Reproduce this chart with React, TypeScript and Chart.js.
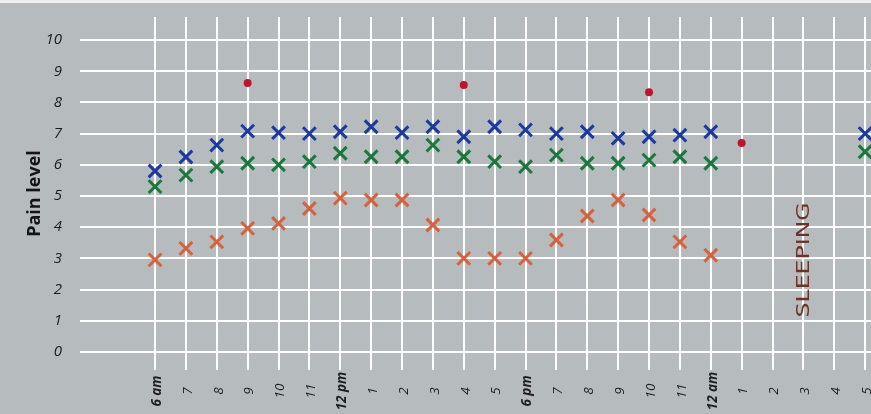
import React, { useEffect, useRef } from 'react';
import { Chart, registerables } from 'chart.js';

Chart.register(...registerables);

// X axis: hours from 6 am (6) to 5 am next day (29)
const tickHours = [6, 7, 8, 9, 10, 11, 12, 13, 14, 15, 16, 17, 18, 19, 20, 21, 22, 23, 24, 25, 26, 27, 28, 29];
const tickLabels = ['6 am', '7', '8', '9', '10', '11', '12 pm', '1', '2', '3', '4', '5', '6 pm', '7', '8', '9', '10', '11', '12 am', '1', '2', '3', '4', '5'];
const yTicks = [0, 1, 2, 3, 4, 5, 6, 7, 8, 9, 10];

// Hourly readings 6 am .. 12 am
const crossHours = [6, 7, 8, 9, 10, 11, 12, 13, 14, 15, 16, 17, 18, 19, 20, 21, 22, 23, 24];
const blueValues = [5.8, 6.25, 6.63, 7.08, 7.03, 7.0, 7.06, 7.22, 7.03, 7.22, 6.9, 7.22, 7.12, 7.0, 7.06, 6.85, 6.9, 6.95, 7.06];
const greenValues = [5.3, 5.67, 5.94, 6.05, 6.0, 6.1, 6.37, 6.26, 6.26, 6.63, 6.26, 6.1, 5.94, 6.31, 6.05, 6.05, 6.15, 6.26, 6.05];
const orangeValues = [2.95, 3.32, 3.53, 3.96, 4.12, 4.6, 4.93, 4.87, 4.87, 4.07, 3.0, 3.0, 3.0, 3.59, 4.36, 4.87, 4.39, 3.53, 3.1];

// Morning reading after sleep (5 am)
const lateHours = [29];
const blueLate = [7.0];
const greenLate = [6.42];

// Red dots
const dotHours = [9, 16, 22, 25];
const dotValues = [8.62, 8.56, 8.33, 6.7];

// Annotation
const sleepLabel = 'SLEEPING';
const sleepHour = 27;
const sleepLevel = 2.95;

const pts = (xs: number[], ys: number[]) => xs.map((x, i) => ({ x, y: ys[i] }));

const BLUE = '#1a3aa2';
const GREEN = '#17793a';
const ORANGE = '#d8603a';
const RED = '#c0142c';

const overlayPlugin = {
  id: 'overlay',
  afterDraw(chart: any) {
    const { ctx, scales } = chart;
    const x = scales.x;
    const y = scales.y;
    // x tick labels, rotated and centred
    tickHours.forEach((h, i) => {
      const lbl = tickLabels[i];
      const bold = /am|pm/.test(lbl);
      const px = x.getPixelForValue(h);
      ctx.save();
      ctx.translate(px + 2, 391);
      ctx.rotate(-Math.PI / 2);
      ctx.font = `italic ${bold ? 'bold ' : ''}13.5px "Open Sans"`;
      ctx.fillStyle = '#1e1e1e';
      ctx.textAlign = 'center';
      ctx.textBaseline = 'middle';
      ctx.fillText(lbl, 0, 0);
      ctx.restore();
    });
    // SLEEPING annotation
    const sx = x.getPixelForValue(sleepHour);
    const sy = y.getPixelForValue(sleepLevel);
    ctx.save();
    ctx.translate(sx + 1, sy);
    ctx.rotate(-Math.PI / 2);
    ctx.font = '17px "DejaVu Sans Condensed", "Liberation Sans Narrow", sans-serif';
    const w = ctx.measureText(sleepLabel).width;
    ctx.scale(115 / w, 1);
    ctx.fillStyle = '#6e3226';
    ctx.textAlign = 'center';
    ctx.textBaseline = 'middle';
    ctx.fillText(sleepLabel, 0, 0);
    ctx.restore();
  },
};

export default function App() {
  const ref = useRef<HTMLCanvasElement>(null);
  useEffect(() => {
    if (!ref.current) return;
    const crossDs = (data: any, color: string) => ({
      data,
      pointStyle: 'crossRot',
      pointRadius: 9,
      pointBorderWidth: 3,
      borderColor: color,
      backgroundColor: color,
      showLine: false,
      clip: false,
    });
    const chart = new Chart(ref.current, {
      type: 'scatter',
      data: {
        datasets: [
          crossDs(pts(crossHours, orangeValues), ORANGE),
          crossDs(pts(crossHours, greenValues), GREEN),
          crossDs(pts(lateHours, greenLate), GREEN),
          crossDs(pts(crossHours, blueValues), BLUE),
          crossDs(pts(lateHours, blueLate), BLUE),
          {
            data: pts(dotHours, dotValues),
            pointStyle: 'circle',
            pointRadius: 4,
            pointBorderWidth: 0,
            backgroundColor: RED,
            borderColor: RED,
            showLine: false,
          },
        ] as any,
      },
      options: {
        animation: false,
        responsive: false,
        maintainAspectRatio: false,
        layout: { autoPadding: false, padding: { top: 17, left: 0, right: 0, bottom: 0 } },
        plugins: { legend: { display: false }, tooltip: { enabled: false } },
        scales: {
          x: {
            type: 'linear',
            min: 3.57,
            max: 29.19,
            afterBuildTicks: (s: any) => {
              s.ticks = tickHours.map((v) => ({ value: v }));
            },
            grid: { color: '#ffffff', lineWidth: 2, drawTicks: false },
            border: { display: false },
            ticks: { display: false },
            afterFit: (s: any) => {
              s.height = 44;
              s.paddingLeft = 0;
              s.paddingRight = 0;
            },
          },
          y: {
            type: 'linear',
            min: -0.58,
            max: 10.74,
            afterBuildTicks: (s: any) => {
              s.ticks = yTicks.map((v) => ({ value: v }));
            },
            grid: { color: '#ffffff', lineWidth: 2, drawTicks: false },
            border: { display: false },
            ticks: {
              color: '#1c1c1c',
              font: { family: 'Open Sans', size: 15, style: 'italic' },
              padding: 18,
              callback: (v: any) => String(v),
            },
            title: {
              display: true,
              text: 'Pain level',
              color: '#141414',
              font: { family: 'Open Sans', size: 18, weight: 'bold' },
              padding: { top: 24, bottom: 0 },
            },
            afterFit: (s: any) => {
              s.width = 80;
              s.paddingTop = 0;
              s.paddingBottom = 0;
            },
          },
        },
      } as any,
      plugins: [overlayPlugin],
    });
    return () => chart.destroy();
  }, []);

  return (
    <div
      style={{
        position: 'fixed',
        left: 0,
        top: 0,
        width: 871,
        height: 414,
        background: 'linear-gradient(#eef0f0 0px, #eef0f0 3px, #b6bbbe 3px, #b6bbbe 100%)',
      }}
    >
      <canvas ref={ref} width={871} height={414} style={{ display: 'block', width: 871, height: 414 }} />
    </div>
  );
}
